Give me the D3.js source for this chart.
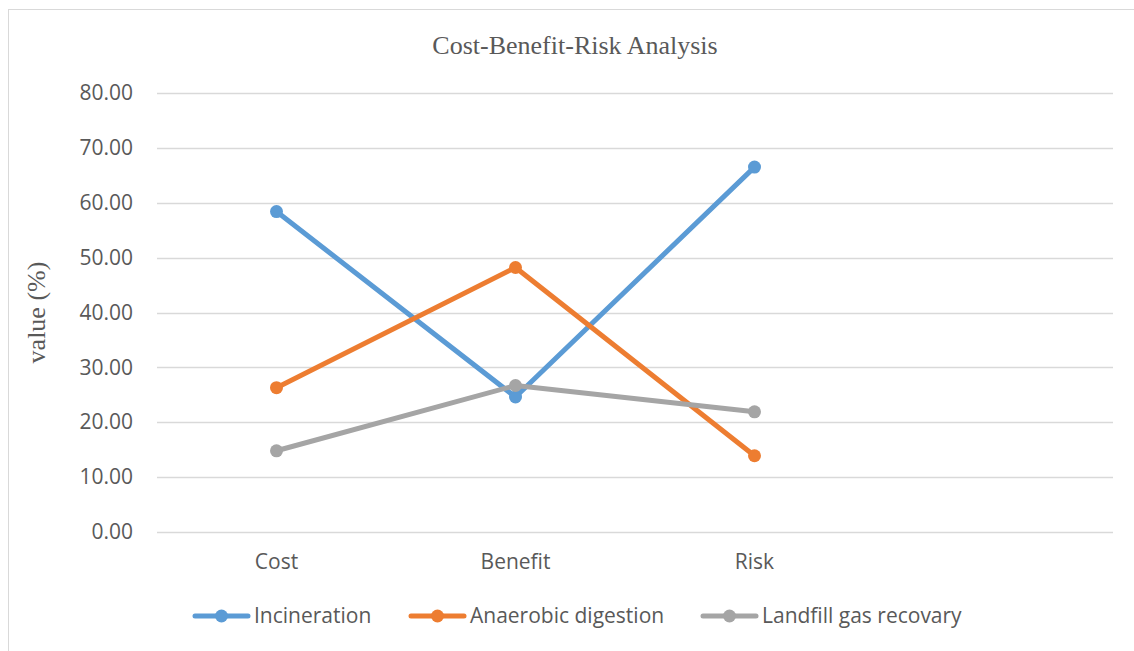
<!DOCTYPE html>
<html>
<head>
<meta charset="utf-8">
<script src="https://cdn.jsdelivr.net/npm/d3@7"></script>
<style>
  html, body { margin: 0; padding: 0; background: #fff; }
  svg { display: block; }
</style>
</head>
<body>
<svg id="chart" width="1134" height="651"></svg>
<script>
// Categories along the x axis (the fourth slot is left blank)
const categories = ["Cost", "Benefit", "Risk", ""];
const seriesNames = ["Incineration", "Anaerobic digestion", "Landfill gas recovary"];
const seriesColors = ["#5B9BD5", "#ED7D31", "#A5A5A5"];
const incineration = [58.4, 24.6, 66.5];
const anaerobic = [26.3, 48.2, 13.9];
const landfill = [14.8, 26.7, 21.9];
const yTicks = [0, 10, 20, 30, 40, 50, 60, 70, 80];

const seriesValues = [incineration, anaerobic, landfill];

const svg = d3.select("#chart");
const plot = { left: 157, right: 1113, top: 93, bottom: 532 };

// Outer frame of the chart area
svg.append("rect")
  .attr("x", 8.5).attr("y", 9.5)
  .attr("width", 1140).attr("height", 660)
  .attr("fill", "#fff").attr("stroke", "#d9d9d9").attr("stroke-width", 1);

const x = d3.scaleBand().domain(categories).range([plot.left, plot.right]).padding(0);
const y = d3.scaleLinear().domain([0, 80]).range([plot.bottom, plot.top]);

// Horizontal gridlines
svg.append("g").selectAll("line").data(yTicks).join("line")
  .attr("x1", plot.left).attr("x2", plot.right)
  .attr("y1", d => Math.round(y(d)) + 0.5).attr("y2", d => Math.round(y(d)) + 0.5)
  .attr("stroke", "#d9d9d9").attr("stroke-width", 1.5);

// Y axis tick labels
const yAxis = d3.axisLeft(y).tickValues(yTicks).tickFormat(d3.format(".2f")).tickSize(0).tickPadding(24);
const gy = svg.append("g").attr("transform", `translate(${plot.left},0)`).call(yAxis);
gy.select(".domain").remove();
gy.selectAll("text")
  .attr("font-family", "'Open Sans', sans-serif")
  .attr("font-size", 21).attr("fill", "#595959");

// X axis category labels
const xAxis = d3.axisBottom(x).tickSize(0).tickPadding(22);
const gx = svg.append("g").attr("transform", `translate(0,${plot.bottom})`).call(xAxis);
gx.select(".domain").remove();
gx.selectAll("text")
  .attr("font-family", "'Open Sans', sans-serif")
  .attr("font-size", 21).attr("fill", "#595959");

const cx = c => x(c) + x.bandwidth() / 2;

// Series lines and markers
const line = d3.line().x((d, i) => cx(categories[i])).y(d => y(d));
seriesValues.forEach((vals, s) => {
  const g = svg.append("g");
  g.append("path").datum(vals)
    .attr("d", line)
    .attr("fill", "none")
    .attr("stroke", seriesColors[s])
    .attr("stroke-width", 5)
    .attr("stroke-linejoin", "round")
    .attr("stroke-linecap", "round");
  g.selectAll("circle").data(vals).join("circle")
    .attr("cx", (d, i) => cx(categories[i]))
    .attr("cy", d => y(d))
    .attr("r", 6.5)
    .attr("fill", seriesColors[s]);
});

// Title
svg.append("text")
  .attr("x", 575).attr("y", 54)
  .attr("text-anchor", "middle")
  .attr("font-family", "'Liberation Serif', 'Times New Roman', serif")
  .attr("font-size", 26).attr("fill", "#595959")
  .text("Cost-Benefit-Risk Analysis");

// Y axis title
svg.append("text")
  .attr("transform", `translate(45,${(plot.top + plot.bottom) / 2}) rotate(-90)`)
  .attr("text-anchor", "middle")
  .attr("font-family", "'Liberation Serif', 'Times New Roman', serif")
  .attr("font-size", 26).attr("fill", "#595959")
  .text("value (%)");

// Legend
const legendX = [195, 411, 703];
const legendY = 616;
const legend = svg.append("g");
seriesNames.forEach((name, s) => {
  const lg = legend.append("g").attr("transform", `translate(${legendX[s]},${legendY})`);
  lg.append("line").attr("x1", 0).attr("x2", 53).attr("y1", 0).attr("y2", 0)
    .attr("stroke", seriesColors[s]).attr("stroke-width", 5).attr("stroke-linecap", "round");
  lg.append("circle").attr("cx", 26.5).attr("cy", 0).attr("r", 6.5).attr("fill", seriesColors[s]);
  lg.append("text").attr("x", 59).attr("y", 0).attr("dy", "0.35em")
    .attr("font-family", "'Open Sans', sans-serif")
    .attr("font-size", 21).attr("fill", "#595959")
    .text(name);
});
</script>
</body>
</html>
